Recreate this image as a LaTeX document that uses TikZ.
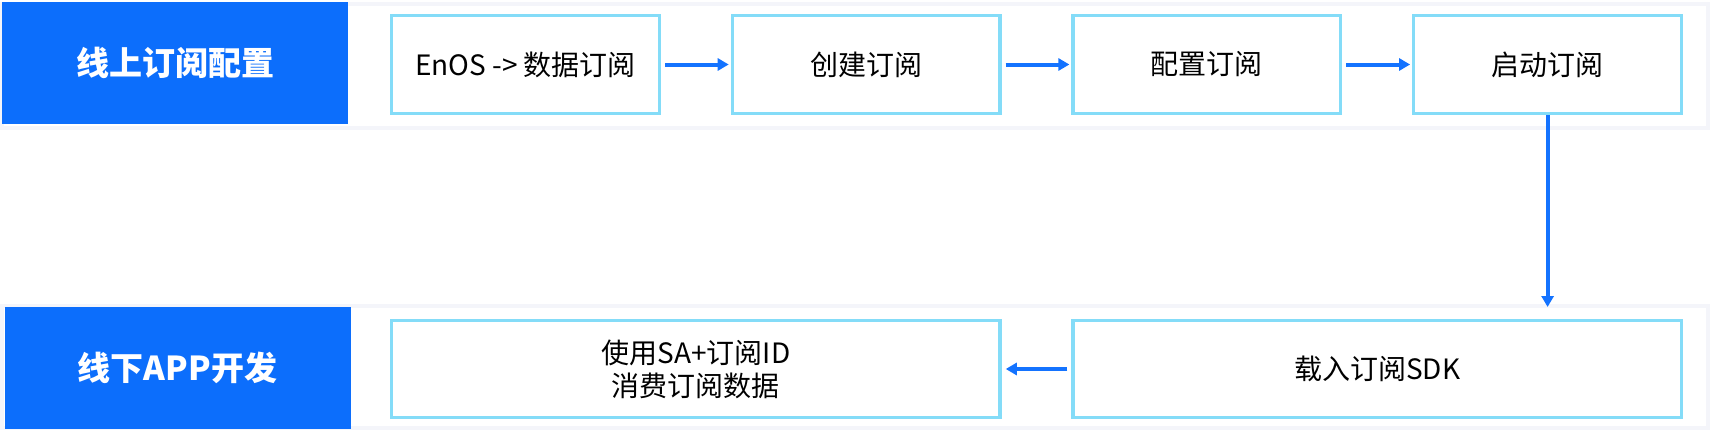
\documentclass[tikz,border=0pt]{standalone}
\usepackage{fontspec}
\setmainfont{Noto Sans CJK SC}
\usetikzlibrary{positioning,arrows.meta}
\definecolor{cabecera}{HTML}{0C6EFC}
\definecolor{borde}{HTML}{84DCF8}
\definecolor{flecha}{HTML}{1473FF}
\definecolor{carril}{HTML}{F4F5FA}

\begin{document}
\begin{tikzpicture}[x=1pt,y=-1pt,node distance=69.7pt,
    lane/.style={draw=carril,line width=4pt,fill=white,minimum width=1706pt,inner sep=0pt},
    header/.style={fill=cabecera,text=white,minimum width=346pt,minimum height=122pt,inner sep=0pt,font=\fontsize{33}{38}\selectfont\bfseries},
    stepbox/.style={draw=borde,line width=3.3pt,fill=white,minimum width=267.7pt,minimum height=97.7pt,align=center,font=\fontsize{28}{33}\selectfont},
    flow/.style={-{Triangle[length=11pt,width=12pt]},line width=4pt,flecha}]
      \useasboundingbox (0,0) rectangle (1710,431);
      \node[lane,minimum height=124pt] (lane1) at (855,66) {};
      \node[lane,minimum height=122pt] (lane2) at (855,367) {};
      \node[header] (online) at (175,63) {线上订阅配置};
      \node[header] (offline) at (177.5,368) {线下APP开发};
      \node[stepbox] (portal) at (525.5,64.5) {EnOS -> 数据订阅};
      \node[stepbox,right=of portal] (create) {创建订阅};
      \node[stepbox,right=of create] (config) {配置订阅};
      \node[stepbox,right=of config] (start) {启动订阅};
      \node[stepbox,minimum width=608.4pt,minimum height=96.7pt] (consume) at (695.9,369) {使用SA+订阅ID\\消费订阅数据};
      \node[stepbox,minimum width=608.4pt,minimum height=96.7pt,right=of consume] (sdk) {载入订阅SDK};
      \draw[flow,shorten <=4pt,shorten >=2pt] (portal) -- (create);
      \draw[flow,shorten <=4pt,shorten >=2pt] (create) -- (config);
      \draw[flow,shorten <=4pt,shorten >=2pt] (config) -- (start);
      \draw[flow,shorten >=-3pt] (start) -- (start |- lane2.north);
      \draw[flow,shorten <=4pt,shorten >=4pt] (sdk) -- (consume);
    \end{tikzpicture}
\end{document}
